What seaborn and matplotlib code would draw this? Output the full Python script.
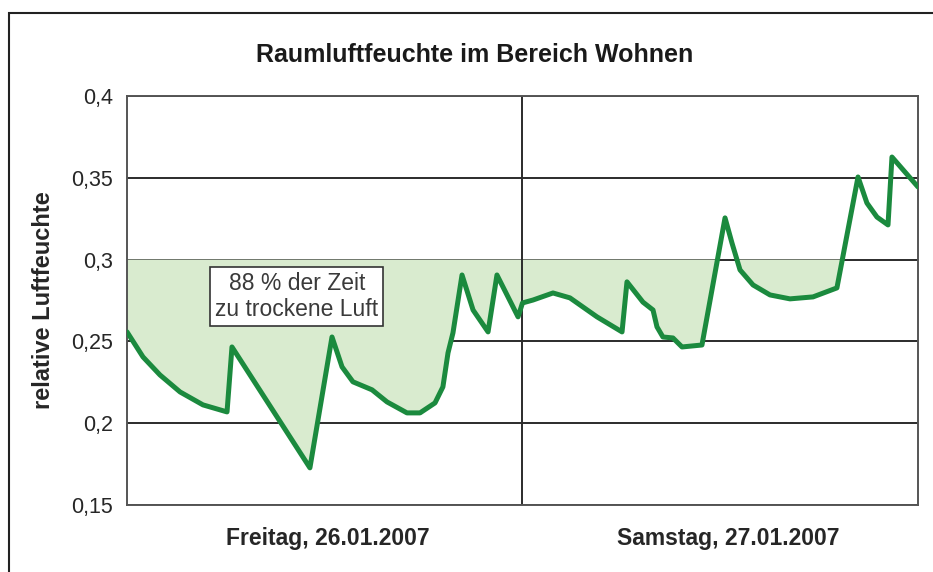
import numpy as np
import pandas as pd
import matplotlib
matplotlib.use("Agg")
import matplotlib.pyplot as plt
from matplotlib.patches import Rectangle
import seaborn as sns

sns.set_style("white")
plt.rcParams['font.family'] = ['Liberation Sans', 'DejaVu Sans']

# hours since Friday 00:00 and relative humidity
hours = [0.0, 0.97, 2.0, 3.22, 4.61, 6.07, 6.37, 11.1, 12.44, 13.05, 13.71, 14.87,
         15.78, 16.99, 17.78, 18.69, 19.17, 19.48, 19.78, 20.33, 21.0, 21.91, 22.45,
         23.73, 24.0, 24.64, 25.85, 26.88, 28.52, 30.04, 30.34, 31.31, 31.92, 32.16,
         32.52, 33.13, 33.68, 34.89, 36.29, 36.71, 37.2, 37.99, 39.02, 40.23, 41.63,
         43.08, 44.36, 44.9, 45.51, 46.18, 46.42, 48.0]
humidity = [0.2558, 0.2405, 0.2295, 0.2191, 0.2112, 0.2069, 0.2466, 0.1727, 0.2527,
            0.2344, 0.2253, 0.2204, 0.213, 0.2063, 0.2063, 0.2124, 0.2222, 0.243,
            0.2552, 0.2906, 0.2692, 0.2558, 0.2906, 0.265, 0.2735, 0.2753, 0.2796,
            0.2766, 0.265, 0.2558, 0.2864, 0.274, 0.2692, 0.2589, 0.2527, 0.2521,
            0.2466, 0.2478, 0.3255, 0.3102, 0.2937, 0.2845, 0.2784, 0.276, 0.2772,
            0.2827, 0.3505, 0.3346, 0.326, 0.3212, 0.3627, 0.3444]
day_labels = ["Freitag, 26.01.2007", "Samstag, 27.01.2007"]
day_centers = [12.2, 36.5]
y_ticks = [0.15, 0.2, 0.25, 0.3, 0.35, 0.4]
y_ticklabels = ["0,15", "0,2", "0,25", "0,3", "0,35", "0,4"]
limit = 0.3

df = pd.DataFrame({"Stunde": hours, "Luftfeuchte": humidity})

fig = plt.figure(figsize=(9.33, 5.72), dpi=100)
ax = fig.add_axes([127/933, 1 - 505/572, (918 - 127)/933, (505 - 96)/572])

x = np.array(hours)
y = np.array(humidity)
ax.fill_between(x, y, limit, where=y < limit, interpolate=True,
                color="#d9ebcf", linewidth=0, zorder=1)
ax.grid(axis="y", color="#2b2b2b", linewidth=1.4, zorder=2)
ax.axvline(24, color="#2b2b2b", linewidth=1.4, zorder=2)
sns.lineplot(data=df, x="Stunde", y="Luftfeuchte", ax=ax, color="#1b8a3e",
             linewidth=3.6, zorder=3)

ax.set_xlim(0, 48)
ax.set_ylim(0.15, 0.4)
ax.set_yticks(y_ticks, y_ticklabels, fontsize=15.5)
ax.set_xticks(day_centers, day_labels, fontsize=16.5, fontweight="bold")
ax.tick_params(length=0, pad=10)
ax.tick_params(axis="x", pad=16)
ax.set_xlabel("")
ax.set_ylabel("relative Luftfeuchte", fontsize=17, fontweight="bold", labelpad=12)
for s in ax.spines.values():
    s.set_color("#555555")
    s.set_linewidth(1.4)

ax.text(10.3, 0.2775, "88 % der Zeit\nzu trockene Luft", ha="center", va="center",
        fontsize=16.5, color="#3a3a3a", linespacing=1.15, zorder=4,
        bbox=dict(boxstyle="square,pad=0.22", fc="white", ec="#333333", lw=1.2))

fig.text(475/933, 1 - 55/572, "Raumluftfeuchte im Bereich Wohnen", ha="center",
         va="center", fontsize=18, fontweight="bold", color="#1a1a1a")

# outer frame (only top and left edges fall inside the picture)
fig.add_artist(Rectangle((9/933, -0.1), 1.1, 1 - 13/572 + 0.1, transform=fig.transFigure,
                         fill=False, ec="#222222", lw=1.5, clip_on=False))

fig.savefig("out.png", dpi=100)
